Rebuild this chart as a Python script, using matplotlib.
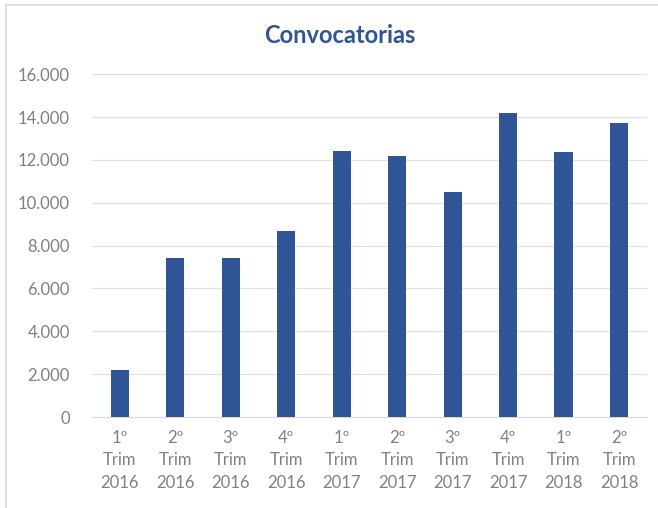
import numpy as np
import matplotlib
matplotlib.use("Agg")
import matplotlib.pyplot as plt
from matplotlib.lines import Line2D

trimestres = ["1º\nTrim\n2016", "2º\nTrim\n2016", "3º\nTrim\n2016", "4º\nTrim\n2016",
              "1º\nTrim\n2017", "2º\nTrim\n2017", "3º\nTrim\n2017", "4º\nTrim\n2017",
              "1º\nTrim\n2018", "2º\nTrim\n2018"]
convocatorias = [2200, 7400, 7400, 8700, 12400, 12200, 10500, 14200, 12350, 13700]
yticks = [0, 2000, 4000, 6000, 8000, 10000, 12000, 14000, 16000]

plt.rcParams['font.family'] = ['Lato', 'DejaVu Sans']

fig = plt.figure(figsize=(6.58, 5.08), dpi=100)
ax = fig.add_axes([0.140, 0.179, 0.843, 0.675])

x = np.arange(len(convocatorias))
ax.bar(x, convocatorias, width=0.33, color="#2F5597", zorder=3)

ax.set_xlim(-0.5, len(convocatorias) - 0.5)
ax.set_ylim(0, 16000)
ax.set_yticks(yticks)
ax.set_yticklabels(["{:,}".format(v).replace(",", ".") for v in yticks])
ax.set_xticks(x)
ax.set_xticklabels(trimestres, linespacing=1.5)

ax.grid(axis="y", color="#e0e0e0", linewidth=0.9, zorder=0)
for s in ["top", "right", "left"]:
    ax.spines[s].set_visible(False)
ax.spines["bottom"].set_color("#d9d9d9")
ax.tick_params(axis="both", length=0, labelsize=12, colors="#808080")
ax.tick_params(axis="y", pad=16)
ax.tick_params(axis="x", pad=9)

fig.text(0.516, 0.931, "Convocatorias", ha="center", va="center",
         fontsize=17, fontweight="bold", color="#2F5597")

# borde del grafico recortado: solo arriba e izquierda
yb = 1 - 5 / 508
xb = 6 / 658
fig.lines.append(Line2D([xb, 1], [yb, yb], transform=fig.transFigure, color="#d9d9d9", lw=1.2))
fig.lines.append(Line2D([xb, xb], [0, yb], transform=fig.transFigure, color="#d9d9d9", lw=1.2))

fig.savefig("out.png", dpi=100)
